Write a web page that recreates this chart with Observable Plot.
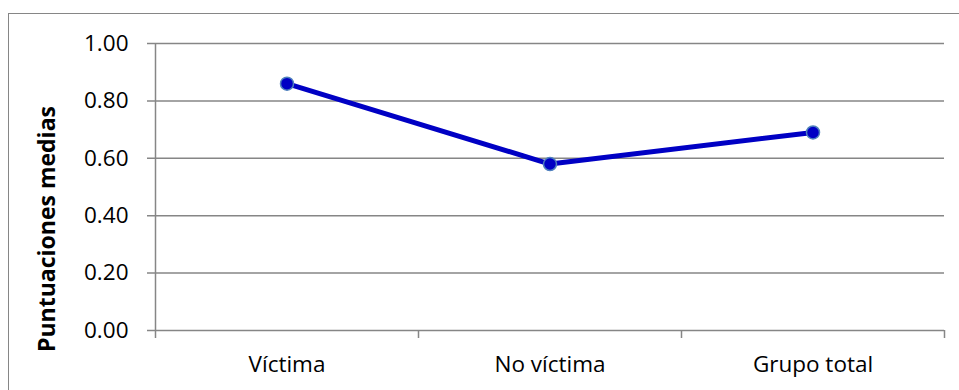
<!DOCTYPE html>
<html>
<head>
<meta charset="utf-8">
<script src="https://cdn.jsdelivr.net/npm/d3@7"></script>
<script src="https://cdn.jsdelivr.net/npm/@observablehq/plot@0.6"></script>
<style>
  html, body { margin: 0; padding: 0; background: #fff; overflow: hidden; }
  #wrap { position: relative; width: 959px; height: 390px; overflow: hidden; }
  #border { position: absolute; left: 8px; top: 13px; width: 1000px; height: 500px;
            border: 1.5px solid #868686; box-sizing: border-box; }
  #chart { position: absolute; left: 0; top: 0; }
</style>
</head>
<body>
<div id="wrap">
  <div id="border"></div>
  <div id="chart"></div>
</div>
<script>
// Mean scores per group
const categories = ["Víctima", "No víctima", "Grupo total"];
const medias = [0.86, 0.58, 0.69];
const yTicks = [0, 0.2, 0.4, 0.6, 0.8, 1.0];
const yLabel = "Puntuaciones medias";

// Each category sits in the middle of its slot on a linear [0, n] axis
const data = categories.map((c, i) => ({categoria: c, pos: i + 0.5, media: medias[i]}));
const slotEdges = d3.range(categories.length + 1);
const slotCenters = data.map(d => d.pos);

const grid = "#868686";
const lineColor = "#0000C4";

const chart = Plot.plot({
  width: 959,
  height: 390,
  marginLeft: 155,
  marginRight: 15,
  marginTop: 43,
  marginBottom: 60,
  style: {fontFamily: "'Open Sans', sans-serif", fontSize: "22.5px", color: "#000", background: "transparent"},
  x: {domain: [0, categories.length], axis: null},
  y: {domain: [0, 1], axis: null},
  marks: [
    // horizontal gridlines, extended left into tick marks
    Plot.ruleY(yTicks, {x1: 0, x2: categories.length, insetLeft: -8, stroke: grid, strokeWidth: 1.5}),
    // vertical axis line
    Plot.ruleX([0], {y1: 0, y2: 1, stroke: grid, strokeWidth: 1.5}),
    // tick marks between categories
    Plot.axisX({ticks: slotEdges, tickSize: 8, tickFormat: () => "", label: null, stroke: grid, strokeWidth: 1.5}),
    // category labels
    Plot.axisX({ticks: slotCenters, tickSize: 0, tickPadding: 26,
                tickFormat: v => categories[Math.round(v - 0.5)], label: null}),
    // value labels
    Plot.axisY({ticks: yTicks, tickSize: 0, tickPadding: 27, tickFormat: d3.format(".2f"), label: null}),
    // axis title
    Plot.text([yLabel], {frameAnchor: "left", rotate: -90, dx: -108, dy: 42, textAnchor: "middle",
                         fontWeight: "bold", fontSize: 23, lineAnchor: "middle"}),
    // series
    Plot.line(data, {x: "pos", y: "media", stroke: lineColor, strokeWidth: 5}),
    Plot.dot(data, {x: "pos", y: "media", r: 6.5, fill: lineColor, stroke: "#4F81BD", strokeWidth: 1.5})
  ]
});
document.getElementById("chart").appendChild(chart);
</script>
</body>
</html>
